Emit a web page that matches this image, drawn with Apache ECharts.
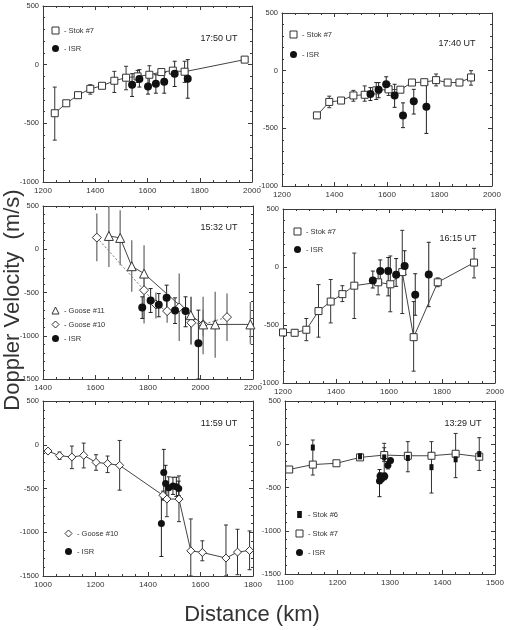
<!DOCTYPE html>
<html><head><meta charset="utf-8">
<script src="https://cdn.jsdelivr.net/npm/echarts@6/dist/echarts.min.js"></script>
<style>html,body{margin:0;padding:0;background:#fff}#c{width:508px;height:630px}</style>
</head><body><div id="c"></div>
<script>
// Each row: [distance km, velocity m/s, error top, error bottom]
// Panel 1 - 17:50 UT
const p1Stok7 = [[1245,-414,-191,-643],[1289,-329,-315,-343],[1334,-260,-250,-270],[1381,-206,-171,-251],[1426,-180,-170,-190],[1473,-137,-57,-237],[1518,-111,-14,-214],[1562,-100,-49,-151],[1607,-86,-9,-171],[1653,-63,-40,-86],[1697,-51,-35,-65],[1742,-60,29,-151],[1972,43,43,43]];
const p1Isr = [[1541,-171,-77,-271],[1569,-123,-43,-191],[1602,-186,-106,-251],[1632,-163,-86,-243],[1664,-146,-66,-243],[1704,-77,29,-186],[1754,-120,43,-286]];
// Panel 2 - 17:40 UT
const p2Stok7 = [[1333,-388,-362,-414],[1380,-271,-221,-321],[1425,-259,-245,-273],[1472,-215,-171,-265],[1515,-209,-132,-265],[1559,-171,-103,-250],[1606,-162,-112,-215],[1651,-165,-155,-175],[1695,-103,-90,-116],[1742,-100,-85,-115],[1787,-82,-29,-132],[1831,-103,-93,-113],[1876,-103,-93,-113],[1920,-59,0,-126]];
const p2Isr = [[1537,-203,-147,-259],[1568,-165,-103,-235],[1597,-118,-53,-176],[1629,-215,-118,-318],[1661,-388,-279,-494],[1702,-265,-162,-376],[1750,-312,-118,-544]];
// Panel 3 - 15:32 UT
const p3Goose11 = [[1651,154,500,-204],[1694,131,450,-185],[1738,-196,104,-492],[1785,-281,46,-858],[1963,-762,-550,-1100],[2010,-869,-550,-1215],[2056,-869,-490,-1254],[2190,-869,-610,-1100]];
const p3Goose10 = [[1605,135,412,-138],[1785,-473,-300,-800],[1830,-638,-500,-800],[1873,-715,-550,-850],[1919,-673,-281,-1062],[1965,-850,-550,-1100],[2010,-869,-700,-1000],[2101,-785,-512,-1062]];
const p3Isr = [[1778,-673,-550,-800],[1810,-592,-454,-731],[1841,-642,-512,-781],[1871,-562,-415,-692],[1903,-708,-562,-858],[1943,-715,-550,-896],[1992,-1088,-704,-1500]];
// Panel 4 - 16:15 UT
const p4Stok7 = [[1200,-564,-532,-594],[1244,-567,-540,-594],[1288,-541,-444,-635],[1334,-380,-152,-605],[1380,-298,-108,-482],[1424,-234,-161,-298],[1469,-161,120,-444],[1559,-132,-35,-240],[1605,-149,95,-386],[1650,-44,316,-401],[1693,-605,-298,-898],[1784,-132,-94,-170],[1921,38,161,-94]];
const p4Isr = [[1539,-117,-35,-181],[1567,-35,61,-152],[1597,-35,82,-249],[1627,-67,73,-167],[1659,9,140,-64],[1699,-240,-58,-416],[1750,-64,213,-342]];
// Panel 5 - 11:59 UT
const p5Goose10 = [[1019,-72,-60,-84],[1063,-125,-83,-167],[1110,-140,-15,-273],[1155,-121,19,-265],[1202,-201,-114,-292],[1246,-216,-129,-318],[1292,-235,49,-519],[1457,-578,-530,-626],[1472,-621,-425,-822],[1518,-621,-356,-879],[1563,-1212,-848,-1500],[1607,-1231,-1098,-1326],[1697,-1295,-917,-1500],[1741,-1227,-966,-1485],[1787,-1208,-985,-1428]];
const p5Isr = [[1451,-901,-576,-1277],[1460,-318,-53,-633],[1467,-443,-235,-576],[1479,-492,-367,-610],[1495,-470,-371,-568],[1508,-481,-371,-590],[1517,-500,-416,-580]];
// Panel 6 - 13:29 UT
const p6Stok7 = [[1108,-292,-292,-292],[1153,-235,-200,-270],[1198,-220,-190,-250],[1243,-152,-130,-175],[1289,-125,-40,-200],[1334,-133,-100,-166],[1379,-133,-100,-166],[1425,-110,-80,-140],[1470,-144,-110,-178]];
const p6Stok6 = [[1153,-38,49,-356],[1243,-140,-115,-165],[1289,-152,11,-330],[1334,-159,30,-318],[1379,-265,30,-564],[1425,-174,125,-386],[1470,-114,76,-303]];
const p6Isr = [[1280,-424,-292,-606],[1281,-367,-330,-405],[1284,-398,-360,-435],[1287,-379,-345,-410],[1290,-371,-335,-410],[1296,-242,-200,-285],[1301,-189,-165,-215]];

const timeLabels = ['17:50 UT','17:40 UT','15:32 UT','16:15 UT','11:59 UT','13:29 UT'];
const xRanges = [[1200,2000,200],[1200,2000,200],[1400,2200,200],[1200,2000,200],[1000,1800,200],[1100,1500,100]];
const yRanges = [[-1000,500],[-1000,500],[-1500,500],[-1000,500],[-1500,500],[-1500,500]];
const xTitle = 'Distance (km)';
const yTitle = 'Doppler Velocity  (m/s)';

const FONT = 'Liberation Sans, Arial, Helvetica, sans-serif';
const AX = '#3a3a3a';
const grids = [
  {left:43, top:6, width:209, height:176},
  {left:282, top:13, width:210, height:173},
  {left:43, top:206, width:210, height:173},
  {left:283, top:209, width:212, height:174},
  {left:43, top:401, width:210, height:175},
  {left:285, top:401, width:210, height:173}
].map(g => Object.assign({outerBoundsMode:'none', containLabel:false}, g));

const xAxes = [], yAxes = [];
grids.forEach((g, i) => {
  const [x0, x1, xi] = xRanges[i];
  const [y0, y1] = yRanges[i];
  const base = {
    type:'value', gridIndex:i, splitLine:{show:false}, minorSplitLine:{show:false},
    axisLine:{show:true, onZero:false, lineStyle:{color:AX, width:1}},
    axisTick:{show:true, inside:true, length:4, lineStyle:{color:AX, width:1}}
  };
  const lab = {fontSize:8, color:'#333', fontFamily:FONT, formatter: v => String(v)};
  xAxes.push(Object.assign({}, base, {position:'bottom', min:x0, max:x1, interval:xi,
    minorTick:{show:true, splitNumber:4, length:2, lineStyle:{color:AX}},
    axisLabel:Object.assign({margin:5}, lab)}));
  xAxes.push(Object.assign({}, base, {position:'top', min:x0, max:x1, interval:xi,
    minorTick:{show:true, splitNumber:4, length:2, lineStyle:{color:AX}},
    axisLabel:{show:false}}));
  yAxes.push(Object.assign({}, base, {position:'left', min:y0, max:y1, interval:500,
    minorTick:{show:true, splitNumber:5, length:2, lineStyle:{color:AX}},
    axisLabel:Object.assign({margin:4}, lab, {fontSize:7.5})}));
  yAxes.push(Object.assign({}, base, {position:'right', min:y0, max:y1, interval:500,
    minorTick:{show:true, splitNumber:5, length:2, lineStyle:{color:AX}},
    axisLabel:{show:false}}));
});

function errSeries(i, data, color, lw, cap) {
  return {
    type:'custom', xAxisIndex:2*i, yAxisIndex:2*i, clip:true, z:1, silent:true,
    encode:{x:0, y:[2,3]},
    data: data,
    renderItem: function(params, api) {
      const x = api.value(0), hi = api.value(2), lo = api.value(3);
      if (hi === lo) return {type:'group', children:[]};
      const a = api.coord([x, hi]), b = api.coord([x, lo]);
      const st = {stroke:color, lineWidth:lw};
      const ch = [{type:'line', shape:{x1:a[0], y1:a[1], x2:b[0], y2:b[1]}, style:st}];
      if (cap) {
        ch.push({type:'line', shape:{x1:a[0]-cap, y1:a[1], x2:a[0]+cap, y2:a[1]}, style:st});
        ch.push({type:'line', shape:{x1:b[0]-cap, y1:b[1], x2:b[0]+cap, y2:b[1]}, style:st});
      }
      return {type:'group', children:ch};
    }
  };
}
function lineSeries(name, i, data, symbol, size, dashed) {
  return {
    name, type:'line', xAxisIndex:2*i, yAxisIndex:2*i, z:2,
    data: data.map(d => [d[0], d[1]]),
    symbol, symbolSize:size, showAllSymbol:true,
    lineStyle:{color: dashed ? '#777' : '#444', width:1, type: dashed ? [2,2] : 'solid'},
    itemStyle:{color:'#fff', borderColor:'#333', borderWidth:1},
    emphasis:{disabled:true}
  };
}
function dotSeries(name, i, data, symbol, size) {
  return {
    name, type:'scatter', xAxisIndex:2*i, yAxisIndex:2*i, z:3,
    data: data.map(d => [d[0], d[1]]),
    symbol, symbolSize:size,
    itemStyle:{color:'#111', opacity:1},
    emphasis:{disabled:true}
  };
}

const series = [
  errSeries(0, p1Stok7, '#333', 1, 2), errSeries(0, p1Isr, '#222', 1, 2),
  lineSeries('Stok #7', 0, p1Stok7, 'rect', 7), dotSeries('ISR', 0, p1Isr, 'circle', 8),

  errSeries(1, p2Stok7, '#333', 1, 2), errSeries(1, p2Isr, '#222', 1, 2),
  lineSeries('Stok #7', 1, p2Stok7, 'rect', 7), dotSeries('ISR', 1, p2Isr, 'circle', 8),

  errSeries(2, p3Goose11, '#7a7a7a', 1.4, 0), errSeries(2, p3Goose10, '#7a7a7a', 1.4, 0), errSeries(2, p3Isr, '#222', 1, 2),
  lineSeries('Goose #10', 2, p3Goose10, 'diamond', 9, true),
  lineSeries('Goose #11', 2, p3Goose11, 'triangle', 9),
  dotSeries('ISR', 2, p3Isr, 'circle', 8),

  errSeries(3, p4Stok7, '#333', 1, 2), errSeries(3, p4Isr, '#222', 1, 2),
  lineSeries('Stok #7', 3, p4Stok7, 'rect', 7), dotSeries('ISR', 3, p4Isr, 'circle', 8),

  errSeries(4, p5Goose10, '#333', 1, 2), errSeries(4, p5Isr, '#222', 1, 2),
  lineSeries('Goose #10', 4, p5Goose10, 'diamond', 8), dotSeries('ISR', 4, p5Isr, 'circle', 7),

  errSeries(5, p6Stok7, '#333', 1, 2), errSeries(5, p6Stok6, '#333', 1, 2), errSeries(5, p6Isr, '#222', 1, 2),
  lineSeries('Stok #7', 5, p6Stok7, 'rect', 7),
  dotSeries('Stok #6', 5, p6Stok6, 'rect', [4,6]),
  dotSeries('ISR', 5, p6Isr, 'circle', 7)
];

const hollow = {color:'#fff', borderColor:'#333', borderWidth:1};
const iStok7 = {name:'Stok #7', icon:'rect', itemStyle:hollow};
const iIsr = {name:'ISR', icon:'circle', itemStyle:{color:'#111', borderWidth:0}};
const iG11 = {name:'Goose #11', icon:'triangle', itemStyle:hollow};
const iG10 = {name:'Goose #10', icon:'diamond', itemStyle:hollow};
const iS6 = {name:'Stok #6', icon:'path://M0,0h4v6h-4z', itemStyle:{color:'#111', borderWidth:0}};
function leg(left, top, gap, items) {
  return {orient:'vertical', left, top, itemGap:gap, itemWidth:7, itemHeight:7, padding:0,
    selectedMode:false, formatter:'- {name}',
    textStyle:{fontSize:7.5, color:'#333', fontFamily:FONT}, data:items};
}
const legends = [
  leg(51.5, 26.5, 10, [iStok7, iIsr]),
  leg(289.5, 30.5, 12, [iStok7, iIsr]),
  leg(51.5, 306.5, 6, [iG11, iG10, iIsr]),
  leg(293.5, 227.5, 10, [iStok7, iIsr]),
  leg(64.5, 529.5, 10, [iG10, iIsr]),
  leg(295.5, 510.5, 11, [iS6, iStok7, iIsr])
];

const labelPos = [[219,39],[457,44],[219,228],[458,239],[219,424],[463,424]];
const graphics = labelPos.map((p, i) => ({
  type:'text', x:p[0], y:p[1], silent:true,
  style:{text:timeLabels[i], fill:'#222', font:'9px ' + FONT, align:'center', verticalAlign:'middle', textAlign:'center', textVerticalAlign:'middle'}
}));
graphics.push({type:'text', x:252, y:615, silent:true,
  style:{text:xTitle, fill:'#333', font:'22px ' + FONT, align:'center', verticalAlign:'middle', textAlign:'center', textVerticalAlign:'middle'}});
graphics.push({type:'text', x:13, y:300, rotation:Math.PI/2, silent:true,
  style:{text:yTitle, fill:'#333', font:'22px ' + FONT, align:'center', verticalAlign:'middle', textAlign:'center', textVerticalAlign:'middle'}});

const chart = echarts.init(document.getElementById('c'), null, {renderer:'canvas'});
chart.setOption({
  animation:false,
  backgroundColor:'#fff',
  textStyle:{fontFamily:FONT},
  grid:grids, xAxis:xAxes, yAxis:yAxes,
  legend:legends,
  series:series,
  graphic:graphics
});
</script></body></html>
